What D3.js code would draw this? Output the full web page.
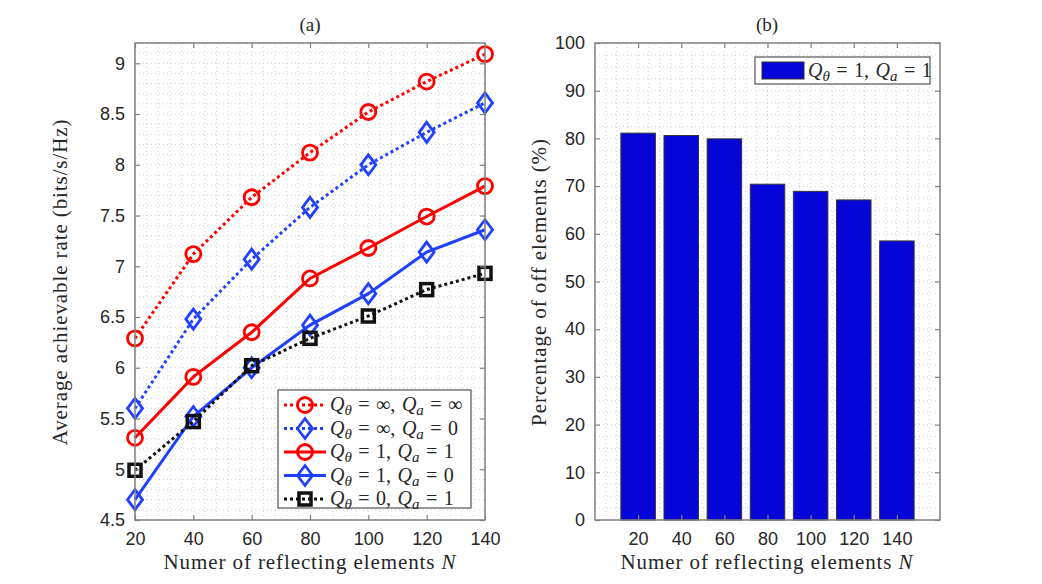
<!DOCTYPE html>
<html>
<head>
<meta charset="utf-8">
<script src="https://cdn.jsdelivr.net/npm/d3@7"></script>
<style>
  body { margin: 0; background: #fff; }
  .tick text { font-family: "Liberation Sans", Arial, sans-serif; font-size: 18px; fill: #262626; }
  .tex { font-family: "Liberation Serif", "DejaVu Serif", serif; fill: #262626; }
</style>
</head>
<body>
<script>
let width = 1042
let height = 584

// data
let N = [20, 40, 60, 80, 100, 120, 140]
let rateInfInf = [6.29, 7.12, 7.68, 8.12, 8.52, 8.82, 9.09]
let rateInf0 = [5.60, 6.48, 7.07, 7.58, 8.00, 8.32, 8.61]
let rate11 = [5.31, 5.91, 6.35, 6.88, 7.18, 7.49, 7.79]
let rate10 = [4.70, 5.52, 6.00, 6.42, 6.73, 7.14, 7.36]
let rate01 = [4.99, 5.47, 6.02, 6.29, 6.51, 6.77, 6.93]
let offPercent = [81.1, 80.6, 79.9, 70.4, 68.9, 67.1, 58.5]
let leftYTicks = [4.5, 5, 5.5, 6, 6.5, 7, 7.5, 8, 8.5, 9]
let rightYTicks = [0, 10, 20, 30, 40, 50, 60, 70, 80, 90, 100]

let series = [
  { vals: rateInfInf, color: '#ff0000', dash: '3 3', marker: 'circle', qt: '\u221e', qa: '\u221e' },
  { vals: rateInf0, color: '#2040ff', dash: '3 3', marker: 'diamond', qt: '\u221e', qa: '0' },
  { vals: rate11, color: '#ff0000', dash: null, marker: 'circle', qt: '1', qa: '1' },
  { vals: rate10, color: '#2040ff', dash: null, marker: 'diamond', qt: '1', qa: '0' },
  { vals: rate01, color: '#111111', dash: '3 3', marker: 'square', qt: '0', qa: '1' }
]

let svg = d3.select('body').append('svg')
  .attr('width', width)
  .attr('height', height)

let axisColor = '#808080'
let gridColor = '#d0d0d0'

// Q_theta = .., Q_a = .. in a latex-ish look
function mathLabel(sel, qt, qa, size) {
  sel.attr('word-spacing', 1.5)
  sel.append('tspan').attr('font-style', 'italic').text('Q')
  sel.append('tspan').attr('font-style', 'italic').attr('font-size', size * 0.75).attr('dy', 4).text('\u03b8')
  sel.append('tspan').attr('dy', -4).text(' = ' + qt + ', ')
  sel.append('tspan').attr('font-style', 'italic').text('Q')
  sel.append('tspan').attr('font-style', 'italic').attr('font-size', size * 0.75).attr('dy', 4).text('a')
  sel.append('tspan').attr('dy', -4).text(' = ' + qa)
}

function grid(g, xs, ys, x, y) {
  g.append('g').selectAll('line').data(xs).join('line')
    .attr('x1', d => x(d)).attr('x2', d => x(d))
    .attr('y1', y.range()[0]).attr('y2', y.range()[1])
    .style('stroke', gridColor).style('stroke-dasharray', '1 3')
  g.append('g').selectAll('line').data(ys).join('line')
    .attr('y1', d => y(d)).attr('y2', d => y(d))
    .attr('x1', x.range()[0]).attr('x2', x.range()[1])
    .style('stroke', gridColor).style('stroke-dasharray', '1 3')
}

function frame(g, x, y, xTicks, yTicks, xFmt) {
  let [x0, x1] = x.range()
  let [y0, y1] = y.range()
  let ax = g.append('g').attr('transform', 'translate(0,' + y0 + ')')
    .call(d3.axisBottom(x).tickValues(xTicks).tickSize(-5).tickPadding(12).tickFormat(xFmt))
  let ay = g.append('g').attr('transform', 'translate(' + x0 + ',0)')
    .call(d3.axisLeft(y).tickValues(yTicks).tickSize(-5).tickPadding(10).tickFormat(d3.format('')))
  let at = g.append('g').attr('transform', 'translate(0,' + y1 + ')')
    .call(d3.axisTop(x).tickValues(xTicks).tickSize(-5).tickFormat(''))
  let ar = g.append('g').attr('transform', 'translate(' + x1 + ',0)')
    .call(d3.axisRight(y).tickValues(yTicks).tickSize(-5).tickFormat(''))
  ;[ax, ay, at, ar].forEach(a => {
    a.select('.domain').remove()
    a.selectAll('.tick line').style('stroke', axisColor).style('stroke-width', 1.2)
  })
  g.append('rect')
    .attr('x', x0).attr('y', y1).attr('width', x1 - x0).attr('height', y0 - y1)
    .style('fill', 'none').style('stroke', axisColor).style('stroke-width', 1.5)
}

// ---------- left panel (a) ----------
let xL = d3.scaleLinear().domain([20, 140]).range([135, 485])
let yL = d3.scaleLinear().domain([4.5, 9.2]).range([520, 43])
let gL = svg.append('g')

grid(gL, d3.range(20, 141, 4), d3.range(4.5, 9.21, 0.1), xL, yL)

let line = d3.line().x((d, i) => xL(N[i])).y(d => yL(d))

function drawMarker(sel, type, color) {
  if (type === 'circle') {
    sel.append('circle').attr('r', 7.5)
      .style('fill', 'none').style('stroke', color).style('stroke-width', 2.8)
  } else if (type === 'diamond') {
    sel.append('path').attr('d', 'M0,-10L7.5,0L0,10L-7.5,0Z')
      .style('fill', 'none').style('stroke', color).style('stroke-width', 2.8)
  } else {
    sel.append('rect').attr('x', -6).attr('y', -6).attr('width', 12).attr('height', 12)
      .style('fill', 'none').style('stroke', color).style('stroke-width', 3.5)
  }
}

series.forEach(s => {
  gL.append('path')
    .attr('d', line(s.vals))
    .style('fill', 'none')
    .style('stroke', s.color)
    .style('stroke-width', 3)
    .style('stroke-dasharray', s.dash)
  s.vals.forEach((v, i) => {
    let m = gL.append('g').attr('transform', 'translate(' + xL(N[i]) + ',' + yL(v) + ')')
    drawMarker(m, s.marker, s.color)
  })
})

frame(gL, xL, yL, N, leftYTicks, d3.format(''))

// legend (a)
let legL = gL.append('g').attr('transform', 'translate(278,390)')
legL.append('rect').attr('width', 193).attr('height', 118)
  .style('fill', '#fff').style('stroke', '#333').style('stroke-width', 1)
series.forEach((s, i) => {
  let row = legL.append('g').attr('transform', 'translate(0,' + (15 + i * 23.5) + ')')
  row.append('line').attr('x1', 6).attr('x2', 48)
    .style('stroke', s.color).style('stroke-width', 3).style('stroke-dasharray', s.dash)
  let m = row.append('g').attr('transform', 'translate(27,0)')
  drawMarker(m, s.marker, s.color)
  let t = row.append('text').attr('class', 'tex').attr('x', 52).attr('y', 6)
    .attr('font-size', 20)
  mathLabel(t, s.qt, s.qa, 20)
})

svg.append('text').attr('class', 'tex').attr('x', 310).attr('y', 31)
  .attr('text-anchor', 'middle').attr('font-size', 19).text('(a)')

let xlabL = svg.append('text').attr('class', 'tex').attr('x', 310).attr('y', 569)
  .attr('text-anchor', 'middle').attr('font-size', 21).attr('letter-spacing', 0.9)
xlabL.append('tspan').text('Numer of reflecting elements ')
xlabL.append('tspan').attr('font-style', 'italic').text('N')

svg.append('text').attr('class', 'tex')
  .attr('transform', 'translate(67,282) rotate(-90)')
  .attr('text-anchor', 'middle').attr('font-size', 21).attr('letter-spacing', 0.9)
  .text('Average achievable rate (bits/s/Hz)')

// ---------- right panel (b) ----------
let xR = d3.scaleLinear().domain([0, 8]).range([595, 940])
let yR = d3.scaleLinear().domain([0, 100]).range([520, 43])
let gR = svg.append('g')

grid(gR, d3.range(0, 8.01, 0.25), d3.range(0, 100.1, 2.5), xR, yR)

let barW = (xR(1) - xR(0)) * 0.8
gR.append('g').selectAll('rect').data(offPercent).join('rect')
  .attr('x', (d, i) => xR(i + 1) - barW / 2)
  .attr('y', d => yR(d))
  .attr('width', barW)
  .attr('height', d => yR(0) - yR(d))
  .style('fill', '#0505d8')
  .style('stroke', '#333')
  .style('stroke-width', 1)

frame(gR, xR, yR, d3.range(1, 8), rightYTicks, (d, i) => N[i])

// legend (b)
let legR = gR.append('g').attr('transform', 'translate(755,57)')
legR.append('rect').attr('width', 175).attr('height', 27)
  .style('fill', '#fff').style('stroke', '#333').style('stroke-width', 1)
legR.append('rect').attr('x', 7).attr('y', 5).attr('width', 42).attr('height', 17)
  .style('fill', '#0505d8').style('stroke', '#333').style('stroke-width', 1)
let tR = legR.append('text').attr('class', 'tex').attr('x', 53).attr('y', 20)
  .attr('font-size', 20)
mathLabel(tR, '1', '1', 20)

svg.append('text').attr('class', 'tex').attr('x', 767).attr('y', 31)
  .attr('text-anchor', 'middle').attr('font-size', 19).text('(b)')

let xlabR = svg.append('text').attr('class', 'tex').attr('x', 767).attr('y', 569)
  .attr('text-anchor', 'middle').attr('font-size', 21).attr('letter-spacing', 0.9)
xlabR.append('tspan').text('Numer of reflecting elements ')
xlabR.append('tspan').attr('font-style', 'italic').text('N')

svg.append('text').attr('class', 'tex')
  .attr('transform', 'translate(546,282) rotate(-90)')
  .attr('text-anchor', 'middle').attr('font-size', 21).attr('letter-spacing', 0.9)
  .text('Percentage of off elements (%)')
</script>
</body>
</html>
